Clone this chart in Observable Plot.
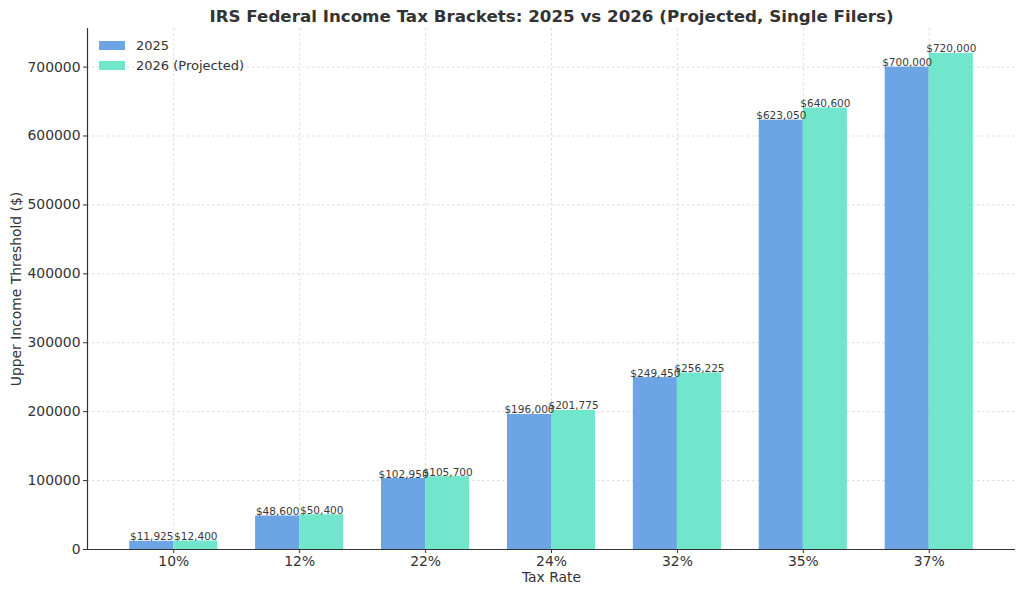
<!DOCTYPE html>
<html>
<head>
<meta charset="utf-8">
<script src="https://cdn.jsdelivr.net/npm/d3@7"></script>
<script src="https://cdn.jsdelivr.net/npm/@observablehq/plot@0.6"></script>
<style>
  html, body { margin: 0; padding: 0; background: #fff; }
  #wrap { position: relative; width: 1024px; height: 594px; font-family: "DejaVu Sans", sans-serif; }
  #legend { position: absolute; left: 99px; top: 36px; font-size: 13px; color: #333; }
  #legend .row { display: flex; align-items: center; height: 19.5px; }
  #legend .sw { width: 26px; height: 9px; margin-right: 11px; }
</style>
</head>
<body>
<div id="wrap"></div>
<script>
const categories = ["10%", "12%", "22%", "24%", "32%", "35%", "37%"];
const values2025 = [11925, 48600, 102950, 196000, 249450, 623050, 700000];
const values2026 = [12400, 50400, 105700, 201775, 256225, 640600, 720000];
const seriesNames = ["2025", "2026 (Projected)"];
const seriesColors = ["#6CA4E4", "#72E6CC"];
const yTicks = [0, 100000, 200000, 300000, 400000, 500000, 600000, 700000];
const title = "IRS Federal Income Tax Brackets: 2025 vs 2026 (Projected, Single Filers)";

const barW = 0.35;
const rows = [];
categories.forEach((c, i) => {
  rows.push({i, cat: c, series: 0, value: values2025[i], x1: i - barW, x2: i});
  rows.push({i, cat: c, series: 1, value: values2026[i], x1: i, x2: i + barW});
});
const fmt = d => "$" + d3.format(",")(d);

const chart = Plot.plot({
  width: 1024,
  height: 594,
  marginLeft: 87,
  marginRight: 9,
  marginTop: 28,
  marginBottom: 45,
  style: { fontFamily: "DejaVu Sans, sans-serif", fontSize: "13.9px", color: "#333", background: "#fff" },
  x: {
    domain: [-0.685, categories.length - 1 + 0.685],
    ticks: d3.range(categories.length),
    tickFormat: i => categories[i],
    tickSize: 4,
    tickPadding: 4,
    label: null
  },
  y: {
    domain: [0, 756000],
    ticks: yTicks,
    tickFormat: d => String(d),
    tickSize: 4,
    tickPadding: 4,
    label: null
  },
  marks: [
    Plot.gridX(d3.range(categories.length), {stroke: "#d4d4d4", strokeOpacity: 1, strokeDasharray: "2.5,2.5", strokeWidth: 0.8}),
    Plot.gridY(yTicks, {stroke: "#d4d4d4", strokeOpacity: 1, strokeDasharray: "2.5,2.5", strokeWidth: 0.8}),
    Plot.rect(rows, {x1: "x1", x2: "x2", y1: 0, y2: "value", fill: d => seriesColors[d.series]}),
    Plot.text(rows, {
      x: d => (d.x1 + d.x2) / 2, y: "value", text: d => fmt(d.value),
      lineAnchor: "bottom", dy: -1, fontSize: 10.5, fill: "#3a3a3a"
    }),
    Plot.axisX({ticks: d3.range(categories.length), tickFormat: i => categories[i], tickSize: 4, tickPadding: 3, label: null, fontSize: 13.9}),
    Plot.axisY({ticks: yTicks, tickFormat: d => String(d), tickSize: 4, tickPadding: 3, label: null, fontSize: 13.9}),
    Plot.ruleY([0], {stroke: "#333", strokeWidth: 1.2}),
    Plot.ruleX([-0.685], {stroke: "#333", strokeWidth: 1.2}),
    Plot.text([title], {frameAnchor: "top", dy: -12, text: d => d, fontSize: 16.7, fontWeight: "bold", fill: "#333", lineAnchor: "middle"}),
    Plot.text(["Tax Rate"], {frameAnchor: "bottom", dy: 28, text: d => d, fontSize: 13.9, fill: "#333", lineAnchor: "middle"}),
    Plot.text(["Upper Income Threshold ($)"], {frameAnchor: "left", dx: -71, rotate: -90, text: d => d, fontSize: 13.9, fill: "#333", textAnchor: "middle", lineAnchor: "middle"})
  ]
});

const wrap = document.getElementById("wrap");
wrap.appendChild(chart);
const legend = document.createElement("div");
legend.id = "legend";
seriesNames.forEach((n, k) => {
  const r = document.createElement("div");
  r.className = "row";
  r.innerHTML = `<span class="sw" style="background:${seriesColors[k]}"></span><span>${n}</span>`;
  legend.appendChild(r);
});
wrap.appendChild(legend);
</script>
</body>
</html>
